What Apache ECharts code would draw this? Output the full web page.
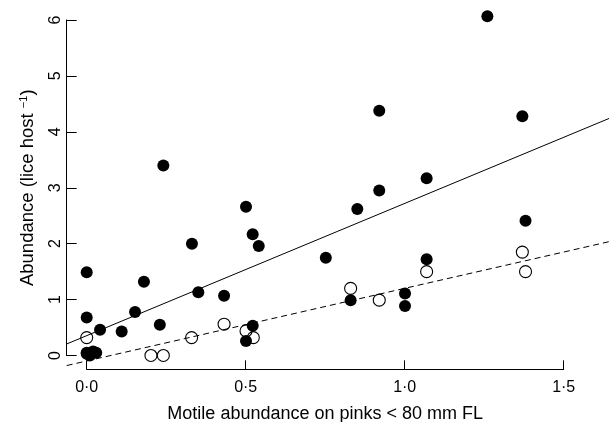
<!DOCTYPE html>
<html>
<head>
<meta charset="utf-8">
<script src="https://cdn.jsdelivr.net/npm/echarts@6/dist/echarts.min.js"></script>
<style>
html,body{margin:0;padding:0;background:#fff;}
#chart{width:609px;height:422px;}
</style>
</head>
<body>
<div id="chart"></div>
<script>
// Filled circles: total motile abundance (x, y)
var filledX = [0.00, 0.00, 0.00, 0.00, 0.02, 0.03, 0.01, 0.042, 0.11, 0.152, 0.18, 0.23, 0.241, 0.331, 0.351, 0.432, 0.501, 0.522, 0.541, 0.501, 0.522, 0.752, 0.83, 0.851, 0.92, 0.92, 1.001, 1.001, 1.069, 1.069, 1.26, 1.37, 1.38];
var filledY = [1.49, 0.68, 0.03, 0.05, 0.07, 0.05, 0.00, 0.46, 0.43, 0.78, 1.32, 0.55, 3.40, 2.00, 1.13, 1.07, 2.66, 2.17, 1.96, 0.26, 0.53, 1.75, 0.99, 2.62, 4.38, 2.95, 1.11, 0.885, 3.17, 1.72, 6.07, 4.28, 2.41];
// Open circles
var openX = [0.00, 0.202, 0.241, 0.33, 0.432, 0.501, 0.524, 0.83, 0.92, 1.069, 1.37, 1.38];
var openY = [0.32, 0.00, 0.00, 0.32, 0.56, 0.44, 0.32, 1.20, 0.99, 1.50, 1.85, 1.50];
// Fitted lines, read at the left and right edges of the plot region
var fitX = [-0.0629, 1.6425];
var fitSolidY = [0.206, 4.24];
var fitDashedY = [-0.18, 2.036];
// Axis ticks
var xTicks = [0, 0.5, 1.0, 1.5];
var xTickLabels = ['0·0', '0·5', '1·0', '1·5'];
var yTicks = [0, 1, 2, 3, 4, 5, 6];

function zip(a, b) { return a.map(function (v, i) { return [v, b[i]]; }); }

var FONT = 'Liberation Sans, Arial, Helvetica, sans-serif';
var chart = echarts.init(document.getElementById('chart'), null, {renderer: 'canvas'});
var hidden = {show: false};
var option = {
  animation: false,
  backgroundColor: '#fff',
  grid: [
    {left: 66.7, right: 0, top: 4, bottom: 52.7, containLabel: false, outerBoundsMode: 'none'},
    {left: 86.7, right: 45.3, top: 4, bottom: 52.7, containLabel: false, outerBoundsMode: 'none'},
    {left: 66.7, right: 0, top: 20, bottom: 66.5, containLabel: false, outerBoundsMode: 'none'}
  ],
  xAxis: [
    {gridIndex: 0, type: 'value', min: fitX[0], max: fitX[1], axisLine: hidden, axisTick: hidden, axisLabel: hidden, splitLine: hidden},
    {gridIndex: 1, type: 'value', min: xTicks[0], max: xTicks[xTicks.length - 1], interval: 0.5,
      axisLine: {show: true, lineStyle: {color: '#000', width: 1}},
      axisTick: {show: true, inside: true, length: 9, lineStyle: {color: '#000', width: 1}},
      axisLabel: {show: true, margin: 10, fontFamily: FONT, fontSize: 16, color: '#000',
        formatter: function (v) { var i = xTicks.indexOf(v); return i >= 0 ? xTickLabels[i] : ''; }},
      splitLine: hidden,
      name: 'Motile abundance on pinks < 80 mm FL', nameLocation: 'middle', nameGap: 36, nameMoveOverlap: false,
      nameTextStyle: {fontFamily: FONT, fontSize: 18, color: '#000'}
    },
    {gridIndex: 2, type: 'value', min: 0, max: 1, show: false}
  ],
  yAxis: [
    {gridIndex: 0, type: 'value', min: -0.247, max: 6.288, axisLine: hidden, axisTick: hidden, axisLabel: hidden, splitLine: hidden},
    {gridIndex: 1, type: 'value', min: 0, max: 1, show: false},
    {gridIndex: 2, type: 'value', min: yTicks[0], max: yTicks[yTicks.length - 1], interval: 1,
      axisLine: {show: true, lineStyle: {color: '#000', width: 1}},
      axisTick: {show: true, inside: true, length: 10, lineStyle: {color: '#000', width: 1}},
      axisLabel: {show: true, rotate: 90, margin: 3, fontFamily: FONT, fontSize: 16, color: '#000'},
      splitLine: hidden,
      name: 'Abundance (lice host {sup|−1})', nameLocation: 'middle', nameGap: 29, nameMoveOverlap: false,
      nameTextStyle: {fontFamily: FONT, fontSize: 18.5, color: '#000', padding: [0, 0, 0, 0],
        rich: {sup: {fontFamily: FONT, fontSize: 11, color: '#000', verticalAlign: 'top', padding: [0, 0, 8, 0]}}}
    }
  ],
  series: [
    {type: 'line', xAxisIndex: 0, yAxisIndex: 0, data: zip(fitX, fitSolidY), symbol: 'none',
      lineStyle: {color: '#000', width: 1, type: 'solid'}, silent: true},
    {type: 'line', xAxisIndex: 0, yAxisIndex: 0, data: zip(fitX, fitDashedY), symbol: 'none',
      lineStyle: {color: '#000', width: 1, type: [6, 4]}, silent: true},
    {type: 'scatter', xAxisIndex: 0, yAxisIndex: 0, data: zip(openX, openY), symbol: 'circle', symbolSize: 12,
      itemStyle: {color: 'rgba(255,255,255,0)', borderColor: '#000', borderWidth: 1.1, opacity: 1}},
    {type: 'scatter', xAxisIndex: 0, yAxisIndex: 0, data: zip(filledX, filledY), symbol: 'circle', symbolSize: 12,
      itemStyle: {color: '#000', opacity: 1}}
  ]
};
chart.setOption(option);
</script>
</body>
</html>
